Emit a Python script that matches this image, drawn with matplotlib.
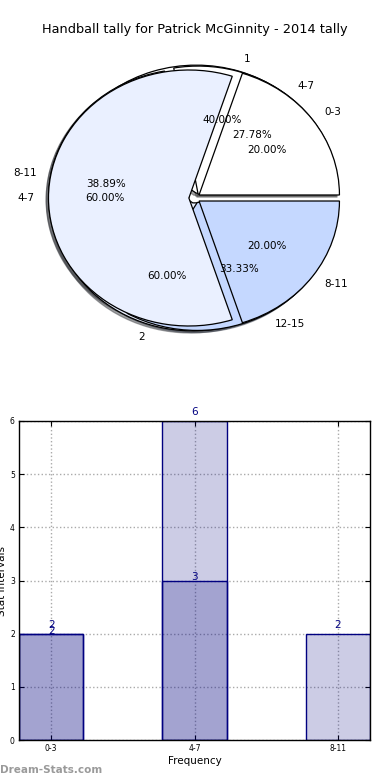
import matplotlib
matplotlib.use("Agg")
import matplotlib.pyplot as plt
import numpy as np

# ---- data ----
title = "Handball tally for Patrick McGinnity - 2014 tally"

pieA_labels = ["1", "2"]
pieA_values = [2, 3]
pieC_labels = ["4-7", "8-11", "12-15"]
pieC_values = [5, 7, 6]
pieB_labels = ["0-3", "4-7", "8-11"]
pieB_values = [2, 6, 2]

bar_categories = ["0-3", "4-7", "8-11"]
bar_series1 = [2, 3]        # darker overlap series
bar_series2 = [2, 6, 2]

pie_colors = ["white", "#EAF0FF", "#C5D8FF"]

W, H, DPI = 390, 780, 100
fig = plt.figure(figsize=(W / DPI, H / DPI), dpi=DPI)

# ---- pie axes ----
ax1 = fig.add_axes([19 / W, 1 - 358 / H, 351 / W, 320 / H])
wp = dict(edgecolor="black", linewidth=0.9)
tp = dict(fontsize=7.5)

def draw_pie(vals, labels):
    ax1.pie(vals, labels=labels, explode=[0.04] * len(vals),
            autopct="%1.2f%%", shadow={"ox": -0.012, "oy": -0.012},
            colors=pie_colors[:len(vals)],
            startangle=0, wedgeprops=wp, textprops=tp)

draw_pie(pieA_values, pieA_labels)
draw_pie(pieC_values, pieC_labels)
draw_pie(pieB_values, pieB_labels)
ax1.set_aspect("auto")
ax1.set_xlim(-1.25, 1.25)
ax1.set_ylim(-1.25, 1.25)
ax1.axis("off")
fig.text(0.5, 1 - 30 / H, title, ha="center", va="center", fontsize=9.3)

# ---- bar axes ----
ax2 = fig.add_axes([19 / W, 1 - 740 / H, 351 / W, 319 / H])
x = np.arange(len(bar_categories))
width = 0.45
navy = "#000080"
fill = (0, 0, 0.5, 0.2)
ax2.bar(x[:len(bar_series1)], bar_series1, width, color=fill, edgecolor=navy, linewidth=1, zorder=2)
ax2.bar(x, bar_series2, width, color=fill, edgecolor=navy, linewidth=1, zorder=2)
for xi, v in zip(x, bar_series1):
    ax2.text(xi, v, str(v), ha="center", va="baseline", color=navy, fontsize=7.5, zorder=4)
for xi, v in zip(x, bar_series2):
    ax2.text(xi, v + 0.11, str(v), ha="center", va="baseline", color=navy, fontsize=7.5, zorder=4)

ax2.set_xlim(-width / 2, len(bar_categories) - 1 + width / 2)
ax2.set_ylim(0, 6)
ax2.set_xticks(x)
ax2.set_xticklabels(bar_categories)
ax2.set_yticks(range(0, 7))
ax2.tick_params(direction="in", length=3.5, labelsize=5.5, top=True, right=True, pad=3)
ax2.grid(True, linestyle=":", color="#aaaaaa", linewidth=1, zorder=1)
ax2.set_axisbelow(True)
ax2.set_xlabel("Frequency", fontsize=7.5, labelpad=2)
ax2.set_ylabel("Stat Intervals", fontsize=7.5, labelpad=2)
for s in ax2.spines.values():
    s.set_linewidth(1)

fig.text(0.0, 1 - 770 / H, "Dream-Stats.com", ha="left", va="center",
         fontsize=7.5, fontweight="bold", color="#9a9a9a")

fig.savefig("out.png", dpi=DPI)
